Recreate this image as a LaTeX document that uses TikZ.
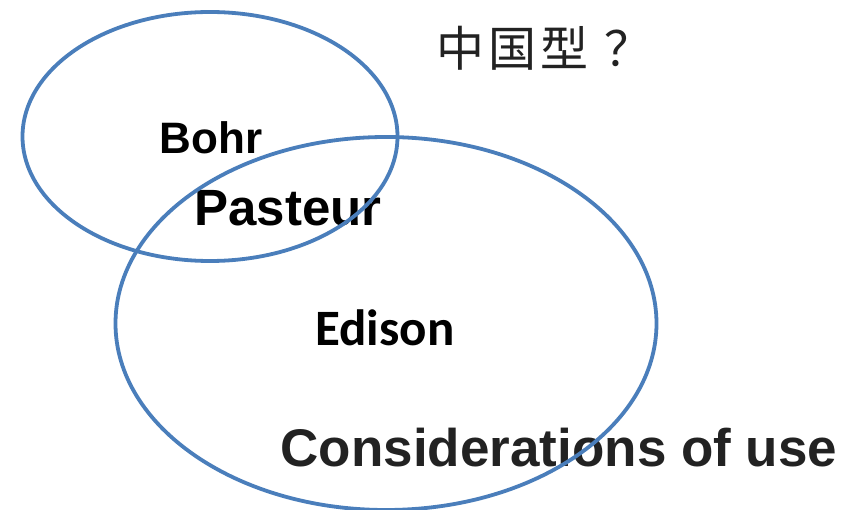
\documentclass[tikz,border=0pt]{standalone}
\usepackage{fontspec}
\usetikzlibrary{shapes.geometric}
\setmainfont{Liberation Sans}
\newfontfamily\cjk{Noto Sans CJK SC}
\newfontfamily\calib{Carlito}
\definecolor{ringblue}{HTML}{4A7EBB}
\definecolor{darktext}{HTML}{222222}
\tikzset{
  ring/.style={ellipse, draw=ringblue, line width=3.8pt, inner sep=0pt, outer sep=0pt},
  lbl/.style={inner sep=0pt, font=\bfseries}
}
\begin{document}
\begin{tikzpicture}[x=1pt,y=-1pt]
\useasboundingbox (0,0) rectangle (847,510);
\node[lbl, font=\fontsize{44}{48}\selectfont\bfseries] (bohr) at (211,138) {Bohr};
\node[lbl, font=\fontsize{51}{56}\selectfont\bfseries] (pasteur) at (288,208) {Pasteur};
\node[lbl, font=\calib\fontsize{51}{56}\selectfont\bfseries] (edison) at (385,328) {Edison};
\node[lbl, text=darktext, font=\fontsize{53}{58}\selectfont\bfseries] (use) at (559,448) {Considerations of use};
\node[inner sep=0pt, anchor=west, text=darktext, font=\cjk\fontsize{48}{50}\selectfont] (china) at (436,48) {中\hspace{4pt}国\hspace{4pt}型\hspace{16pt}？};
\node[ring, minimum width=375pt, minimum height=249pt] (basic) at (210,136.5) {};
\node[ring, minimum width=541pt, minimum height=373pt] (applied) at (386,323.5) {};
\end{tikzpicture}
\end{document}
